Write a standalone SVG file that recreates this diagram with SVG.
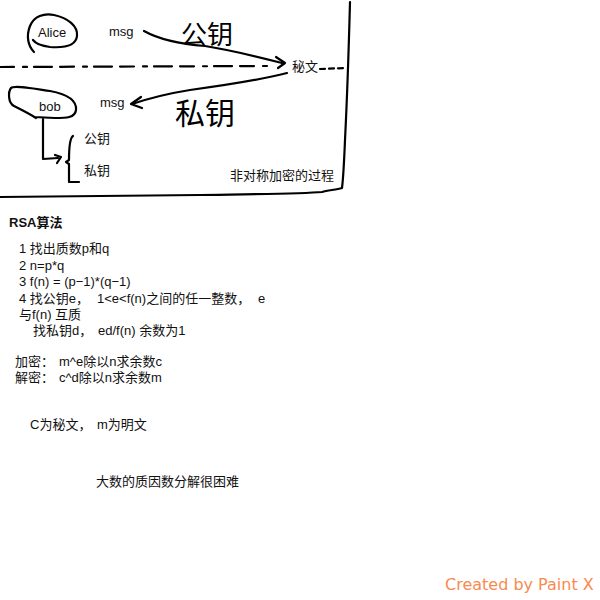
<svg xmlns="http://www.w3.org/2000/svg" width="600" height="600" viewBox="0 0 600 600">
<style>
.ink{fill:none;stroke:#000;stroke-width:2.2;stroke-linecap:round;stroke-linejoin:round}
.t{font-family:"Liberation Sans","Noto Sans CJK SC",sans-serif;font-size:13px;fill:#111}
.hand{font-family:"Noto Sans CJK SC",sans-serif;fill:#000}
</style>
<rect width="600" height="600" fill="#fff"/>
<g id="frame">
<path class="ink" d="M350,2 C349,40 347,100 345,140 C344,165 343,180 342,188 C336,190 328,190 322,192 C300,194 250,194 200,195 C120,196 60,196 0,197"/>
<path class="ink" d="M0,67 L268,66" stroke-dasharray="14 9 4 7 18 8"/>
<path class="ink" d="M320,69 L346,68" stroke-dasharray="5 4"/>
</g>
<g id="alice">
<path class="ink" d="M34,52 C28,46 26,36 30,26 C34,16 44,13 54,15 C68,18 78,26 77,36 C76,46 64,48 50,47 C42,46 36,44 33,40"/>
<text class="t" x="38" y="37">Alice</text>
</g>
<g id="msg1"><text class="t" x="109" y="36">msg</text></g>
<g id="cipher"><text class="t" x="292" y="71" font-size="12">秘文</text></g>
<g id="bob">
<path class="ink" d="M36,118 C30,114 22,110 14,106 C8,103 8,92 11,88 C14,85 30,88 50,91 C66,94 77,100 76,110 C75,118 66,118 55,118 L34,117"/>
<text class="t" x="39" y="111">bob</text>
</g>
<g id="msg2"><text class="t" x="100" y="107">msg</text></g>
<g id="pubkey-hand"><text class="hand" x="181" y="44" font-size="26">公钥</text></g>
<g id="privkey-hand"><text class="hand" x="175" y="124" font-size="30">私钥</text></g>
<g id="keys">
<text class="t" x="84" y="143">公钥</text>
<text class="t" x="84" y="175">私钥</text>
</g>
<g id="caption"><text class="t" x="230" y="180">非对称加密的过程</text></g>
<g id="connectors">
<path class="ink" d="M144,31 C160,40 180,44 205,46 C230,50 255,56 282,63"/>
<path class="ink" d="M276,57 L285,63 L278,68"/>
<path class="ink" d="M287,73 C260,80 220,86 190,90 C165,94 150,98 132,104"/>
<path class="ink" d="M141,97 L131,104 L142,108"/>
<path class="ink" d="M43,119 L43,159 L58,158"/>
<path class="ink" d="M55,155 L61,157 L57,163"/>
<path class="ink" d="M73,136 C70,138 69,145 69,160 L66,162 L69,164 L69,182 L79,182"/>
</g>
<g id="rsa">
<text class="t" x="9" y="227" font-weight="bold">RSA算法</text>
<text class="t" x="19" y="253">1 找出质数p和q</text>
<text class="t" x="19" y="270">2 n=p*q</text>
<text class="t" x="19" y="286">3 f(n) = (p−1)*(q−1)</text>
<text class="t" y="303"><tspan x="19">4 找公钥e，</tspan><tspan x="97">1&lt;e&lt;f(n)之间的任一整数，</tspan><tspan x="258">e</tspan></text>
<text class="t" x="19" y="319">与f(n) 互质</text>
<text class="t" y="335"><tspan x="33">找私钥d，</tspan><tspan x="98">ed/f(n) 余数为1</tspan></text>
<text class="t" y="366"><tspan x="15">加密：</tspan><tspan x="59">m^e除以n求余数c</tspan></text>
<text class="t" y="382"><tspan x="15">解密：</tspan><tspan x="59">c^d除以n求余数m</tspan></text>
<text class="t" y="429"><tspan x="30">C为秘文，</tspan><tspan x="97">m为明文</tspan></text>
<text class="t" x="96" y="486">大数的质因数分解很困难</text>
</g>
<g id="watermark"><text x="445" y="590" font-family="DejaVu Sans,sans-serif" font-size="16" fill="#f98a4f">Created by Paint X</text></g>
</svg>
